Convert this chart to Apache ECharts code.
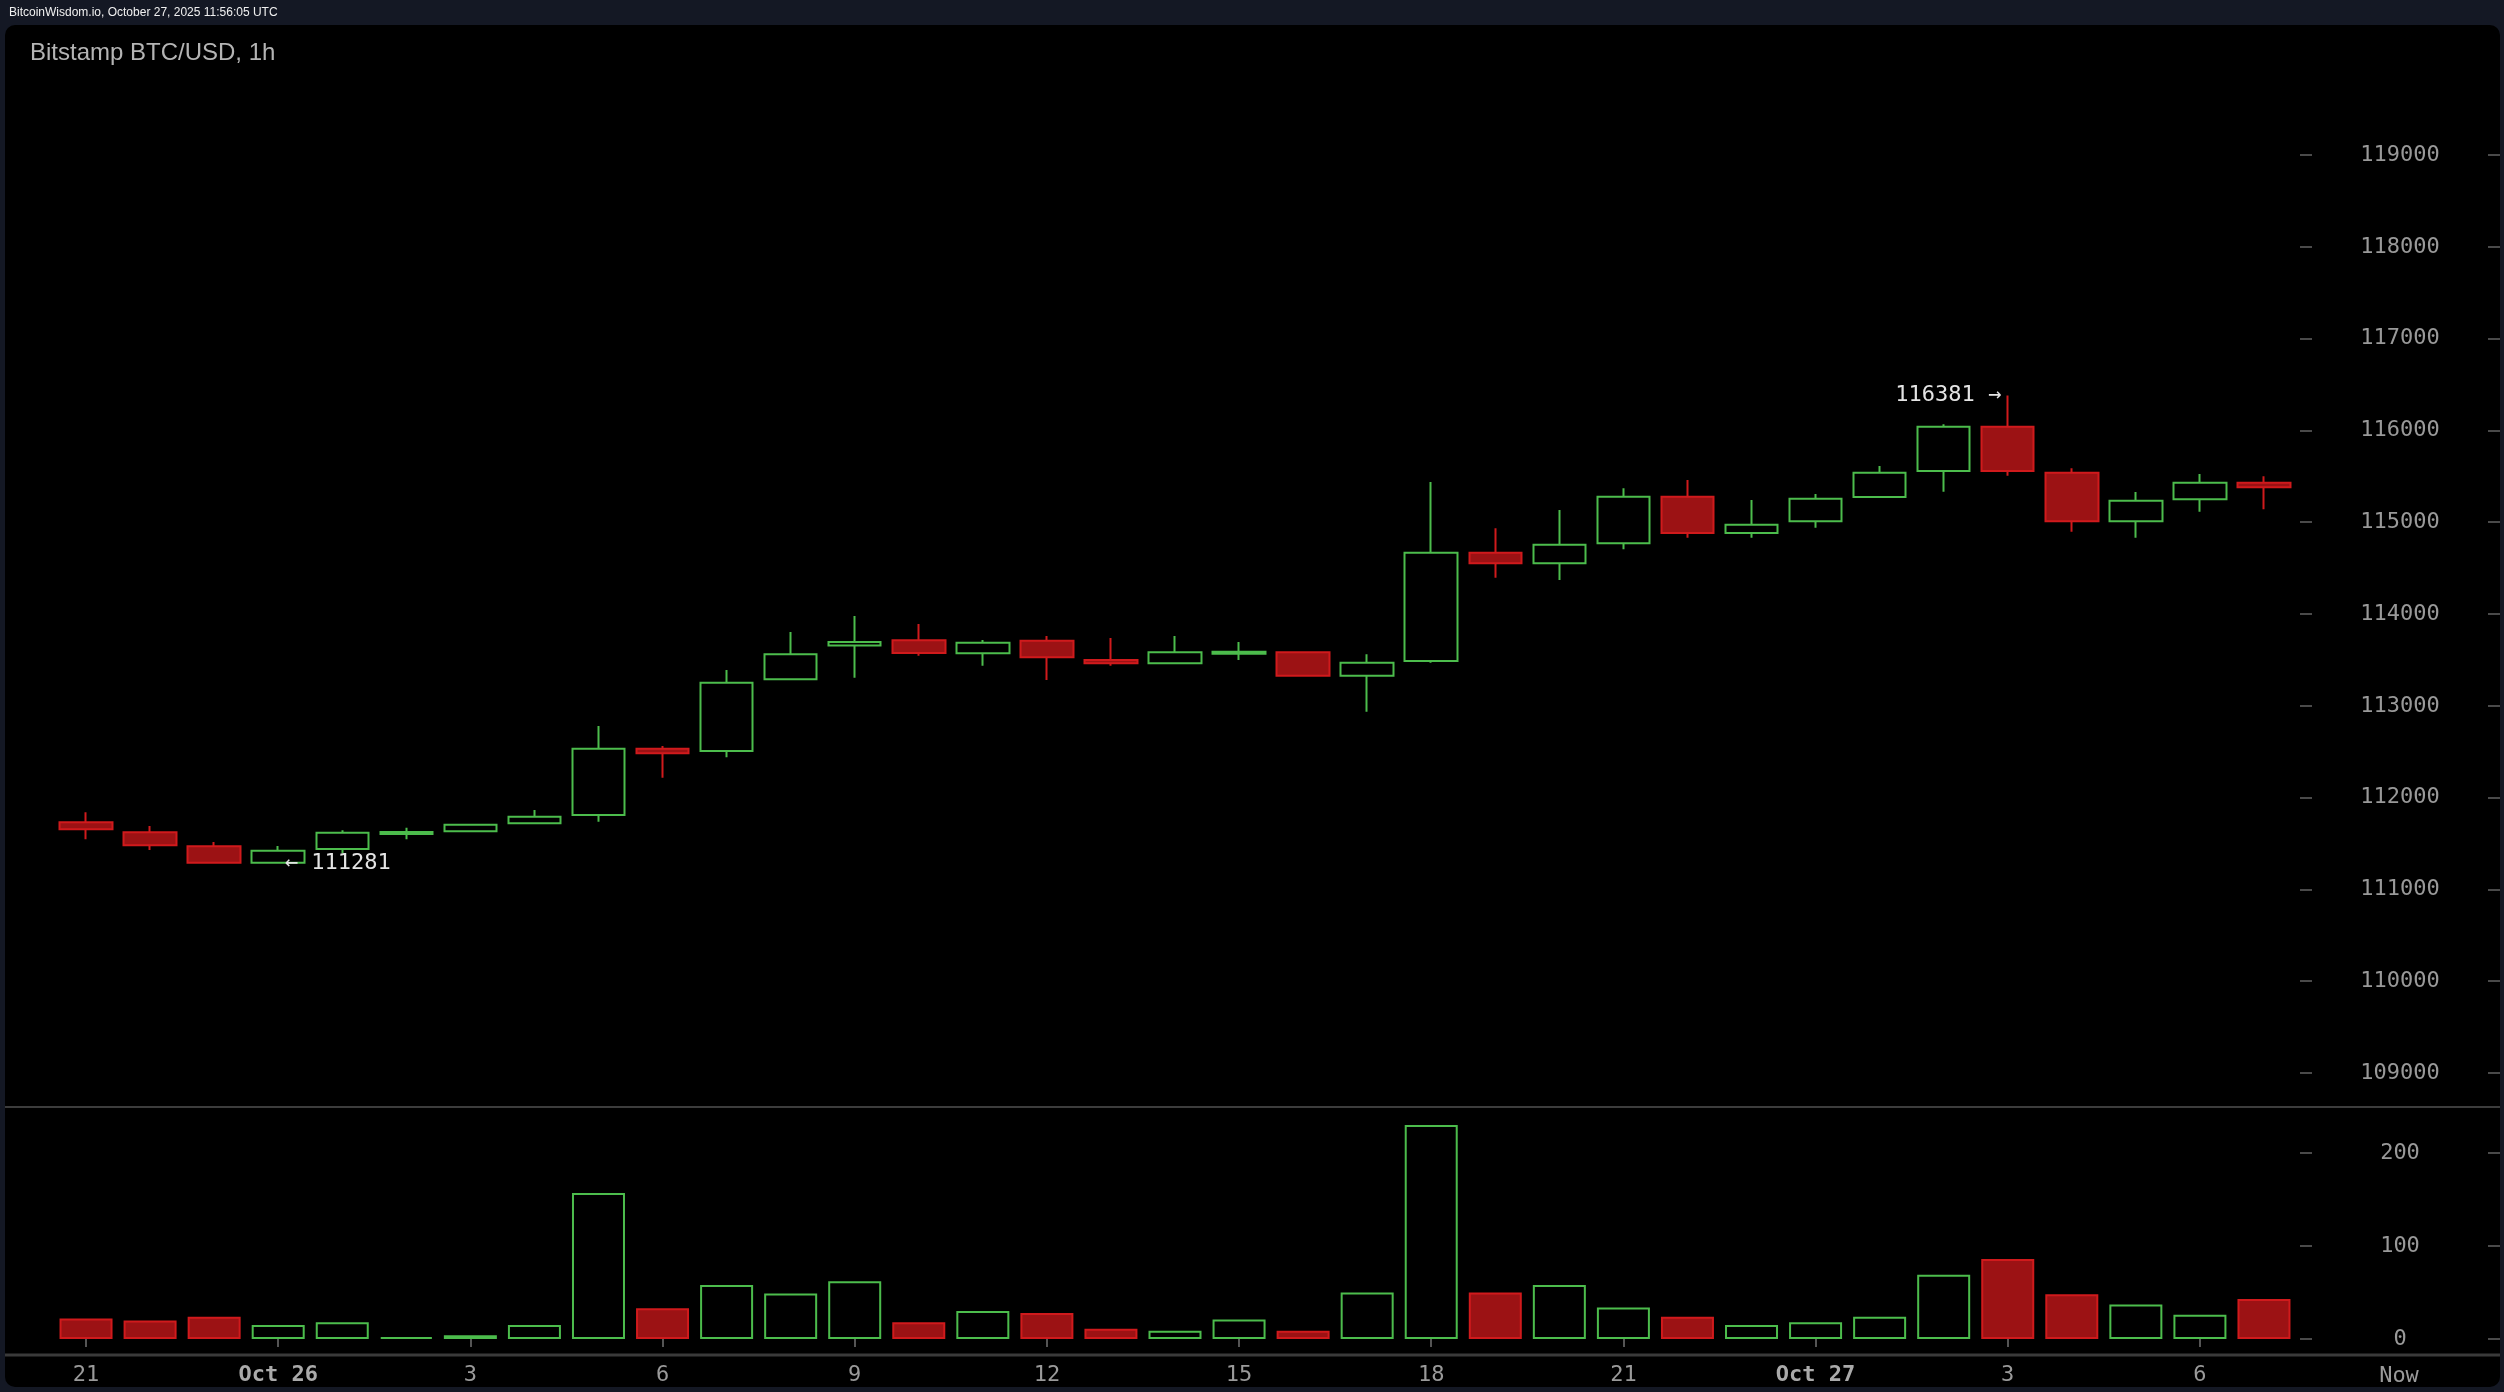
<!DOCTYPE html>
<html>
<head>
<meta charset="utf-8">
<title>Bitstamp BTC/USD, 1h</title>
<script src="https://cdn.jsdelivr.net/npm/echarts@6/dist/echarts.min.js"></script>
<style>
  html, body { margin: 0; padding: 0; background: #141824; }
  #chart { width: 2504px; height: 1392px; }
</style>
</head>
<body>
<div id="chart"></div>
<script>
// hourly candles, Oct 25 21:00 -> Oct 27 07:00
const hours = ['21', '22', '23', 'Oct 26', '1', '2', '3', '4', '5', '6', '7', '8', '9', '10', '11', '12',
  '13', '14', '15', '16', '17', '18', '19', '20', '21', '22', '23', 'Oct 27', '1', '2', '3', '4', '5', '6', '7']
const opens = [111731, 111622, 111470, 111290, 111440, 111603, 111633, 111720, 111811, 112533, 112508, 113289,
  113657, 113714, 113572, 113709, 113499, 113463, 113568, 113583, 113328, 113488, 114668, 114552, 114770,
  115278, 114882, 115010, 115275, 115558, 116040, 115539, 115010, 115250, 115430]
const closes = [111655, 111481, 111290, 111422, 111618, 111625, 111705, 111792, 112533, 112483, 113252, 113561,
  113695, 113575, 113688, 113529, 113463, 113583, 113590, 113328, 113470, 114668, 114552, 114755, 115278,
  114882, 114973, 115256, 115539, 116040, 115558, 115010, 115234, 115430, 115380]
const lows = [111546, 111429, 111285, 111281, 111393, 111546, 111628, 111715, 111738, 112217, 112439, 113280,
  113306, 113546, 113437, 113281, 113437, 113455, 113499, 113320, 112936, 113470, 114396, 114370, 114705,
  114831, 114831, 114940, 115265, 115332, 115507, 114897, 114831, 115115, 115141]
const highs = [111840, 111691, 111516, 111473, 111644, 111672, 111712, 111865, 112780, 112562, 113390, 113804,
  113978, 113891, 113717, 113760, 113739, 113760, 113695, 113590, 113561, 115438, 114934, 115133, 115369,
  115460, 115242, 115307, 115612, 116067, 116381, 115587, 115329, 115525, 115500]
const volumes = [22, 20, 24, 15, 18, 2, 4, 15, 157, 33, 58, 49, 62, 18, 30, 28, 11, 9, 21, 9, 50, 230, 50, 58,
  34, 24, 15, 18, 24, 69, 86, 48, 37, 26, 43]
const priceTicks = { min: 109000, max: 119000, step: 1000 }
const volumeTicks = { min: 0, max: 200, step: 100 }
const highMark = { index: 30, value: 116381 }
const lowMark = { index: 3, value: 111281 }

const green = '#4cbc4c'
const redFill = '#9c1214'
const redLine = '#d01a1c'
const mono = 'DejaVu Sans Mono'

const candles = opens.map((o, i) => [o, closes[i], lows[i], highs[i]])
const volumeBars = volumes.map((v, i) => {
  const up = closes[i] >= opens[i]
  return {
    value: v,
    itemStyle: up
      ? { color: '#000', borderColor: green, borderWidth: 2 }
      : { color: redFill, borderColor: redLine, borderWidth: 2 }
  }
})

const chart = echarts.init(document.getElementById('chart'))

const sideAxis = (grid, ticks, offset, labels) => ({
  type: 'value',
  gridIndex: grid,
  position: 'right',
  offset: offset,
  min: ticks.min,
  max: ticks.max,
  interval: ticks.step,
  axisLine: { show: false },
  axisTick: { show: true, length: 12, lineStyle: { color: '#4a4a4a', width: 2 } },
  axisLabel: {
    show: labels,
    align: 'center',
    margin: 100,
    padding: [3, 0, 0, 0],
    color: '#999',
    fontFamily: mono,
    fontSize: 22,
    formatter: v => String(v)
  },
  splitLine: { show: false }
})

const option = {
  backgroundColor: '#141824',
  animation: false,
  title: [
    {
      text: 'BitcoinWisdom.io, October 27, 2025 11:56:05 UTC',
      left: 9, top: 7, padding: 0,
      textStyle: { color: '#f0f0f0', fontSize: 12, fontWeight: 'normal', fontFamily: 'Liberation Sans' }
    },
    {
      text: 'Bitstamp BTC/USD, 1h',
      left: 30, top: 41, padding: 0,
      textStyle: { color: '#b4b4b4', fontSize: 24, fontWeight: 'normal', fontFamily: 'Liberation Sans' }
    }
  ],
  grid: [
    { left: 54, right: 208, top: 155, bottom: 319 },
    { left: 54, right: 208, top: 1153, bottom: 53 }
  ],
  xAxis: [
    { type: 'category', gridIndex: 0, data: hours, boundaryGap: true, show: false },
    {
      type: 'category',
      gridIndex: 1,
      data: hours,
      boundaryGap: true,
      offset: 16,
      axisLine: { show: false },
      axisTick: {
        show: true, interval: 2, alignWithLabel: true, length: 8,
        lineStyle: { color: '#555', width: 2 }
      },
      axisLabel: {
        interval: 2,
        margin: 9,
        color: '#9a9a9a',
        fontFamily: mono,
        fontSize: 22,
        formatter: v => v.startsWith('Oct') ? '{b|' + v + '}' : v,
        rich: {
          b: { fontFamily: mono, fontSize: 22, fontWeight: 'bold', color: '#aaa' }
        }
      },
      splitLine: { show: false }
    }
  ],
  yAxis: [
    sideAxis(0, priceTicks, 4, true),
    sideAxis(0, priceTicks, 192, false),
    sideAxis(1, volumeTicks, 4, true),
    sideAxis(1, volumeTicks, 192, false)
  ],
  graphic: [
    {
      type: 'rect', z: -10, silent: true,
      shape: { x: 5, y: 25, width: 2495, height: 1362, r: 10 },
      style: { fill: '#000' }
    },
    {
      type: 'line', z: 5, silent: true,
      shape: { x1: 5, y1: 1107, x2: 2500, y2: 1107 },
      style: { stroke: '#3c3c3c', lineWidth: 2 }
    },
    {
      type: 'line', z: 5, silent: true,
      shape: { x1: 5, y1: 1355, x2: 2500, y2: 1355 },
      style: { stroke: '#3a3a3a', lineWidth: 3 }
    },
    {
      type: 'text', z: 5, silent: true,
      x: 2399, y: 1376,
      style: {
        text: 'Now', fill: '#9a9a9a', font: '22px "DejaVu Sans Mono"',
        align: 'center', verticalAlign: 'middle'
      }
    }
  ],
  series: [
    {
      name: 'BTC/USD',
      type: 'candlestick',
      xAxisIndex: 0,
      yAxisIndex: 0,
      barWidth: 53,
      data: candles,
      itemStyle: {
        color: '#000',
        color0: redFill,
        borderColor: green,
        borderColor0: redLine,
        borderWidth: 2
      },
      markPoint: {
        symbol: 'circle',
        symbolSize: 1,
        itemStyle: { color: 'rgba(0,0,0,0)' },
        label: {
          color: '#e4e4e4',
          fontFamily: mono,
          fontSize: 22
        },
        data: [
          {
            coord: [highMark.index, highMark.value],
            value: highMark.value,
            label: { position: 'left', distance: 6, formatter: p => p.value + ' →' }
          },
          {
            coord: [lowMark.index, lowMark.value],
            value: lowMark.value,
            label: { position: 'right', distance: 6, formatter: p => '← ' + p.value }
          }
        ]
      }
    },
    {
      name: 'Volume',
      type: 'bar',
      xAxisIndex: 1,
      yAxisIndex: 2,
      barWidth: 53,
      clip: false,
      data: volumeBars
    }
  ]
}

chart.setOption(option)
</script>
</body>
</html>
